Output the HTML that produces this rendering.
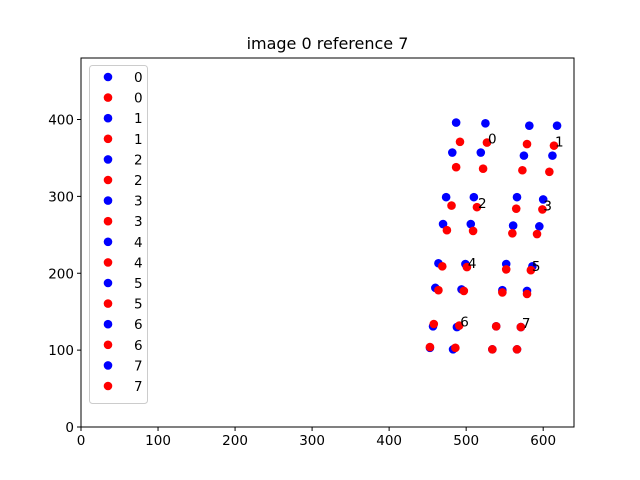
<!DOCTYPE html>
<html><head><meta charset="utf-8"><style>
body{margin:0;background:#fff}
svg{display:block;font-family:"DejaVu Sans","Liberation Sans",sans-serif}
</style></head><body>
<svg id="chart" width="640" height="480" viewBox="0 0 640 480">
<rect width="640" height="480" fill="#fff"/>
<text x="327.5" y="49" font-size="16" text-anchor="middle">image 0 reference 7</text>
<g id="plot"></g>
</svg>
<script>
const groupLabels = ["0","1","2","3","4","5","6","7"];
const blueX = [[487,525,482,519],[582,618,575,612],[474,510,470,506],[566,600,561,595],[464,499,460,494],[552,586,547,579],[457,488,453,483],[539,571,534,566]];
const blueY = [[396,395,357,357],[392,392,353,353],[299,299,264,264],[299,296,262,261],[213,212,181,179],[212,209,178,177],[131,130,103,101],[131,130,101,101]];
const redX = [[492,527,487,522],[579,614,573,608],[481,514,475,509],[565,599,560,592],[469,501,464,497],[552,584,547,579],[458,491,453,486],[539,571,534,566]];
const redY = [[371,370,338,336],[368,366,334,332],[288,286,256,255],[284,283,252,251],[209,208,178,177],[205,204,175,173],[134,132,104,103],[131,130,101,101]];
const xTicks = [0,100,200,300,400,500,600];
const yTicks = [0,100,200,300,400];

const NS="http://www.w3.org/2000/svg";
const L=81,R=574,T=58,B=427;
const sx=v=>L+(v/640)*(R-L);
const sy=v=>B-(v/480)*(B-T);
const g=document.getElementById('plot');
function mk(tag,attrs){const e=document.createElementNS(NS,tag);for(const k in attrs)e.setAttribute(k,attrs[k]);g.appendChild(e);return e;}

const bg=mk('rect',{x:L,y:T,width:R-L,height:B-T,fill:'#fff'});



for(let i=0;i<groupLabels.length;i++){
  for(let j=0;j<4;j++){
    const c=mk('circle',{cx:sx(blueX[i][j]),cy:sy(blueY[i][j]),r:4.3,fill:'#0000ff'});
    
    
  }
  for(let j=0;j<4;j++){
    const c=mk('circle',{cx:sx(redX[i][j]),cy:sy(redY[i][j]),r:4.3,fill:'#ff0000'});
    
    
  }
  const t=mk('text',{x:sx(redX[i][1])+1,y:sy(redY[i][1])+1,'font-size':13.5});
  t.textContent=groupLabels[i];
  
  
}

const frame=mk('rect',{x:L,y:T,width:R-L,height:B-T,fill:'none',stroke:'#000','stroke-width':1});



xTicks.forEach(v=>{
  const x=sx(v);
  const l=mk('line',{x1:x,x2:x,y1:B,y2:B+4,stroke:'#000'});
  
  
  const t=mk('text',{x:x,y:B+18,'font-size':13.5,'text-anchor':'middle'});
  t.textContent=v;
  
  
});
yTicks.forEach(v=>{
  const y=sy(v);
  const l=mk('line',{x1:L-4,x2:L,y1:y,y2:y,stroke:'#000'});
  
  
  const t=mk('text',{x:L-7,y:y+5,'font-size':13.5,'text-anchor':'end'});
  t.textContent=v;
  
  
});

const lg=mk('rect',{x:89.5,y:65.5,width:58,height:338,rx:3,fill:'#fff','fill-opacity':0.8,stroke:'#ccc'});


let k=0;
groupLabels.forEach(lab=>{
  ['#0000ff','#ff0000'].forEach(col=>{
    const y=77+k*20.6;
    const c=mk('circle',{cx:108,cy:y,r:4.3,fill:col});
    
    
    const t=mk('text',{x:134,y:y+5,'font-size':13.5});
    t.textContent=lab;
    
    
    k++;
  });
});
</script>
</body></html>
